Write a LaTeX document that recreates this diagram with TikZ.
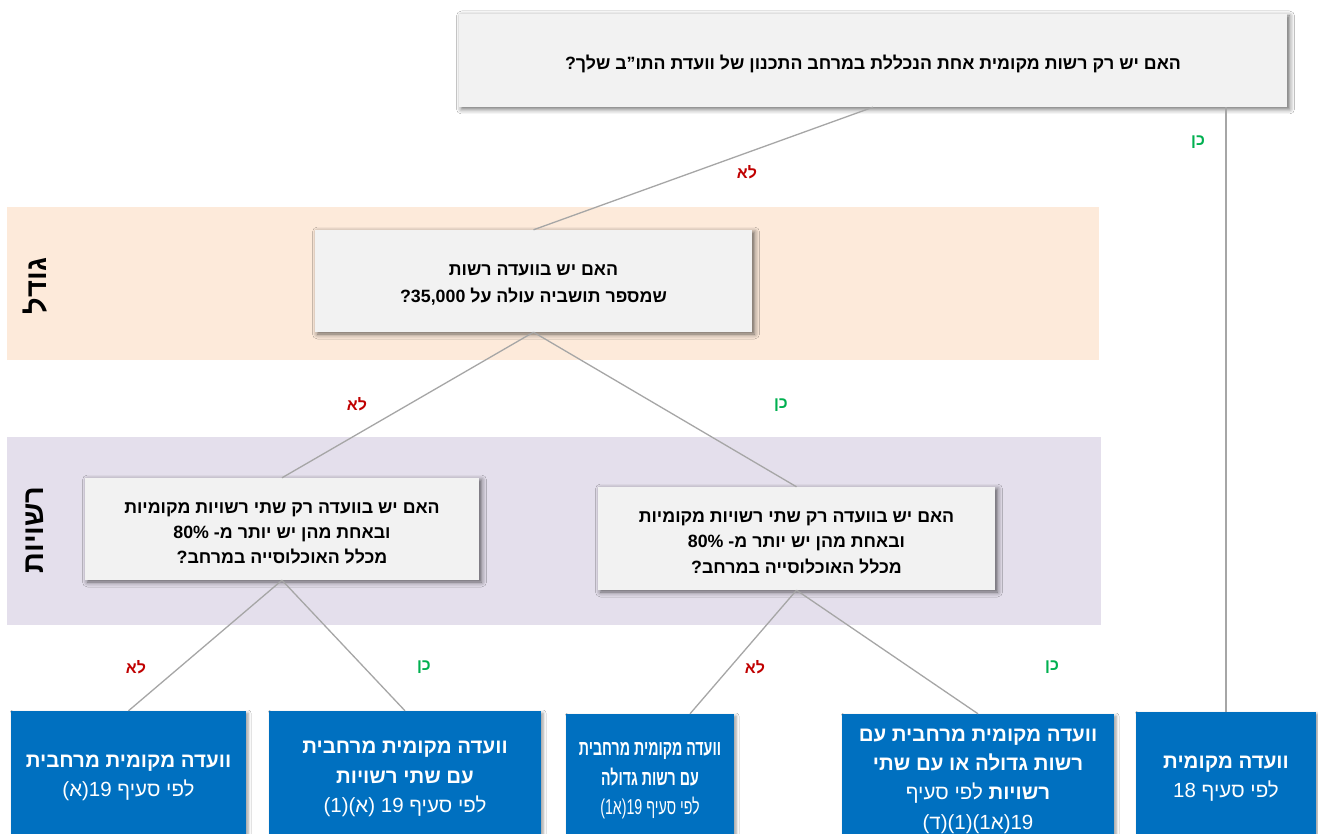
\documentclass[tikz,border=0pt]{standalone}
\usepackage{fontspec}
\setmainfont{Liberation Sans}[Script=Hebrew]
\newfontfamily\condensedfont{Liberation Sans}[Script=Hebrew, FakeStretch=0.66]
\TeXXeTstate=1
\usetikzlibrary{shadows.blur}

\newcommand{\rtl}[1]{\beginR #1\endR}
\newcommand{\ltr}[1]{\beginL #1\endL{}}
\newcommand{\QFont}{\fontsize{17.8}{26.5}\selectfont\bfseries}
\newcommand{\OFont}{\fontsize{20.5}{29.3}\selectfont}
\newcommand{\LblFont}{\fontsize{16}{18}\selectfont\bfseries}
\newcommand{\AxFont}{\fontsize{29}{32}\selectfont\bfseries}

\definecolor{qgray}{HTML}{F2F2F2}
\definecolor{oblue}{HTML}{0070C0}
\definecolor{bandpeach}{HTML}{FDEADA}
\definecolor{bandlilac}{HTML}{E4DFEC}
\definecolor{lgray}{HTML}{A6A6A6}
\definecolor{nored}{HTML}{C00000}
\definecolor{yesgreen}{HTML}{00B050}

\tikzset{
  qbox/.style={fill=qgray, inner sep=0pt,
    blur shadow={shadow xshift=2.5pt, shadow yshift=-2pt, shadow blur radius=5pt, shadow opacity=60}},
  qtext/.style={align=center, inner sep=0pt, font=\QFont},
  obox/.style={fill=oblue, inner sep=0pt,
    blur shadow={shadow xshift=2pt, shadow yshift=-2pt, shadow blur radius=3pt, shadow opacity=40}},
  otext/.style={align=center, inner sep=0pt, text=white, font=\OFont},
  band/.style={inner sep=0pt, draw=none},
  link/.style={draw=lgray, line width=1.3pt},
  nolbl/.style={text=nored, font=\LblFont},
  yeslbl/.style={text=yesgreen, font=\LblFont},
  axislbl/.style={rotate=90, font=\AxFont}
}

\begin{document}
\begin{tikzpicture}[x=1pt, y=-1pt]
  \useasboundingbox (0,0) rectangle (1318,834);
  \clip (0,0) rectangle (1318,834);
  \fill[white] (0,0) rectangle (1318,834);

  % background bands with their row titles
  \node[band, fill=bandpeach, minimum width=1092pt, minimum height=153pt] (sizeband) at (553,283.5) {};
  \node[band, fill=bandlilac, minimum width=1094pt, minimum height=188pt] (authband) at (554,531) {};
  \node[axislbl] (sizelbl) at (35,286) {\rtl{גודל}};
  \node[axislbl] (authlbl) at (35,530) {\rtl{רשויות}};

  % question boxes
  \node[qbox, minimum width=828pt, minimum height=93pt] (q1) at (873,60.5) {};
  \node[qbox, minimum width=437pt, minimum height=102pt] (q2) at (533.5,281) {};
  \node[qbox, minimum width=394pt, minimum height=102pt] (q3l) at (282,529) {};
  \node[qbox, minimum width=397pt, minimum height=103pt] (q3r) at (796.5,538.5) {};

  \node[qtext] (q1t) at ([yshift=-3pt]q1.center)
    {\rtl{האם יש רק רשות מקומית אחת הנכללת במרחב התכנון של וועדת התו"ב שלך?}};
  \node[qtext, font=\fontsize{17.8}{27}\selectfont\bfseries] (q2t) at ([yshift=-4pt]q2.center)
    {\rtl{האם יש בוועדה רשות}\\ \rtl{שמספר תושביה עולה על \ltr{35,000}?}};
  \node[qtext, font=\fontsize{17.8}{25}\selectfont\bfseries] (q3lt) at ([yshift=-4pt]q3l.center)
    {\rtl{האם יש בוועדה רק שתי רשויות מקומיות}\\ \rtl{ובאחת מהן יש יותר מ- \ltr{80\%}}\\ \rtl{מכלל האוכלוסייה במרחב?}};
  \node[qtext, font=\fontsize{17.8}{25.5}\selectfont\bfseries] (q3rt) at ([yshift=-4pt]q3r.center)
    {\rtl{האם יש בוועדה רק שתי רשויות מקומיות}\\ \rtl{ובאחת מהן יש יותר מ- \ltr{80\%}}\\ \rtl{מכלל האוכלוסייה במרחב?}};

  % outcome boxes
  \node[obox, minimum width=235pt, minimum height=140pt] (b1) at (128.5,781) {};
  \node[obox, minimum width=272pt, minimum height=140pt] (b2) at (405,781) {};
  \node[obox, minimum width=168pt, minimum height=140pt] (b3) at (650,784) {};
  \node[obox, minimum width=272pt, minimum height=140pt] (b4) at (978,784) {};
  \node[obox, minimum width=180pt, minimum height=140pt] (b5) at (1226,782) {};

  \node[otext] (b1t) at (128.5,778)
    {\rtl{\textbf{וועדה מקומית מרחבית}}\\ \rtl{לפי סעיף \ltr{19}(א)}};
  \node[otext] (b2t) at (405,779)
    {\rtl{\textbf{וועדה מקומית מרחבית}}\\ \rtl{\textbf{עם שתי רשויות}}\\ \rtl{לפי סעיף \ltr{19} (א)(1)}};
  \node[otext, font=\condensedfont\fontsize{21.5}{29.5}\selectfont] (b3t) at (650,781)
    {\rtl{\textbf{וועדה מקומית מרחבית}}\\ \rtl{\textbf{עם רשות גדולה}}\\ \rtl{לפי סעיף \ltr{19}(א1)}};
  \node[otext] (b4t) at (978,781)
    {\rtl{\textbf{וועדה מקומית מרחבית עם}}\\ \rtl{\textbf{רשות גדולה או עם שתי}}\\ \rtl{\textbf{רשויות} לפי סעיף}\\ \rtl{\ltr{19}(א1)(1)(ד)}};
  \node[otext] (b5t) at (1226,779)
    {\rtl{\textbf{וועדה מקומית}}\\ \rtl{לפי סעיף \ltr{18}}};

  % connectors
  \draw[link] (q1.south) -- (q2.north);
  \draw[link] (b5.north |- q1.south) -- (b5.north);
  \draw[link] (q2.south) -- (q3l.north);
  \draw[link] (q2.south) -- (q3r.north);
  \draw[link] (q3l.south) -- (b1.north);
  \draw[link] (q3l.south) -- (b2.north);
  \draw[link] (q3r.south) -- ([xshift=40pt]b3.north);
  \draw[link] (q3r.south) -- (b4.north);

  % answer labels
  \node[nolbl] (n1) at (747,172) {\rtl{לא}};
  \node[yeslbl] (y1) at (1198,142) {\rtl{כן}};
  \node[nolbl] (n2) at (357,404) {\rtl{לא}};
  \node[yeslbl] (y2) at (781,405) {\rtl{כן}};
  \node[nolbl] (n3) at (136,667) {\rtl{לא}};
  \node[yeslbl] (y3) at (424,667) {\rtl{כן}};
  \node[nolbl] (n4) at (755,667) {\rtl{לא}};
  \node[yeslbl] (y4) at (1052,667) {\rtl{כן}};
\end{tikzpicture}
\end{document}
